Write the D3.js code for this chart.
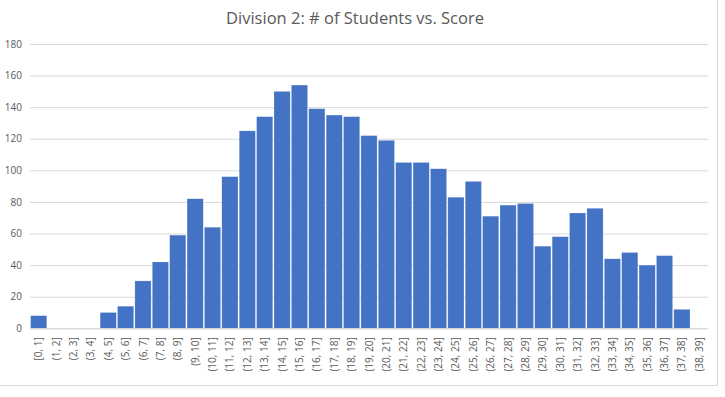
<!DOCTYPE html>
<html><head><meta charset="utf-8">
<script src="https://cdn.jsdelivr.net/npm/d3@7"></script>
<style>body{margin:0;background:#fff;}svg{display:block;}</style>
</head><body>
<svg id="c" width="725" height="397"></svg>
<script>
const categories = ["[0, 1]","(1, 2]","(2, 3]","(3, 4]","(4, 5]","(5, 6]","(6, 7]","(7, 8]","(8, 9]","(9, 10]","(10, 11]","(11, 12]","(12, 13]","(13, 14]","(14, 15]","(15, 16]","(16, 17]","(17, 18]","(18, 19]","(19, 20]","(20, 21]","(21, 22]","(22, 23]","(23, 24]","(24, 25]","(25, 26]","(26, 27]","(27, 28]","(28, 29]","(29, 30]","(30, 31]","(31, 32]","(32, 33]","(33, 34]","(34, 35]","(35, 36]","(36, 37]","(37, 38]","(38, 39]"];
const students = [8,0,0,0,10,14,30,42,59,82,64,96,125,134,150,154,139,135,134,122,119,105,105,101,83,93,71,78,79,52,58,73,76,44,48,40,46,12,0];
const yTicks = [0,20,40,60,80,100,120,140,160,180];
const title = "Division 2: # of Students vs. Score";

(function(){
const svg = d3.select("#c");
const mL = 30, mR = 708, mT = 44, mB = 328.3;
const font = "'Open Sans', 'Noto Sans', sans-serif";

svg.append("rect").attr("x",-1).attr("y",-1).attr("width",718.5).attr("height",386.5)
  .attr("fill","#fff").attr("stroke","#d9d9d9").attr("stroke-width",1);

const x = d3.scaleBand().domain(categories).range([mL,mR]).paddingInner(0.07).paddingOuter(0.035);
const y = d3.scaleLinear().domain([0,180]).range([mB,mT]);

svg.append("text").attr("x",355).attr("y",24).attr("text-anchor","middle")
  .attr("font-family",font).attr("font-size",16.5).attr("fill","#595959").text(title);

const ya = svg.append("g").attr("transform",`translate(${mL},0)`)
  .call(d3.axisLeft(y).tickValues(yTicks).tickSize(-(mR-mL)).tickPadding(8));
ya.select(".domain").remove();
ya.selectAll(".tick line").attr("stroke","#d9d9d9").attr("stroke-width",1);
ya.selectAll(".tick text").attr("font-family",font).attr("font-size",10).attr("fill","#595959");

svg.append("g").selectAll("rect").data(students).join("rect")
  .attr("x",(d,i)=>x(categories[i]))
  .attr("width",x.bandwidth())
  .attr("y",d=>y(d))
  .attr("height",d=>mB-y(d))
  .attr("fill","#4472C4").attr("stroke","#ffffff").attr("stroke-opacity",0.4).attr("stroke-width",0.5);

const xa = svg.append("g").attr("transform",`translate(0,${mB})`)
  .call(d3.axisBottom(x).tickSize(0).tickPadding(0));
xa.select(".domain").attr("stroke","#d9d9d9");
xa.selectAll(".tick text")
  .attr("font-family",font).attr("font-size",10).attr("fill","#595959")
  .attr("text-anchor","end").attr("transform","rotate(-90)")
  .attr("x",-9).attr("y",0).attr("dy","0.35em");
})();
</script>
</body></html>
